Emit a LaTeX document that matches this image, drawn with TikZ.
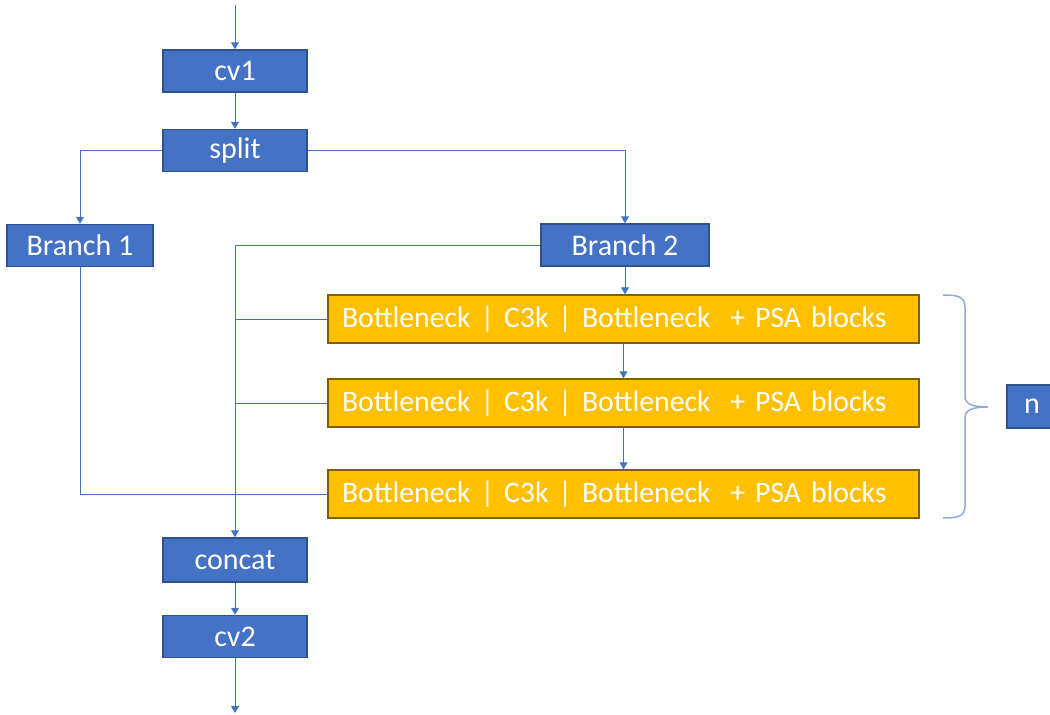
\documentclass[tikz,border=0pt]{standalone}
\usepackage{fontspec}
\setmainfont{Carlito}
\usetikzlibrary{positioning, arrows.meta}
\definecolor{boxblue}{HTML}{4472C4}
\definecolor{boxedge}{HTML}{2F528F}
\definecolor{psayellow}{HTML}{FFC000}
\definecolor{psaedge}{HTML}{7F6000}
\definecolor{bracegray}{HTML}{8FAADC}
\tikzset{
 block/.style = {
    rectangle, draw=boxedge, fill=boxblue,
    text=white,
    line width=1.5pt,
    minimum width=144pt,
    minimum height=42pt,
    inner sep=0pt,
    font=\fontsize{30}{36}\selectfont},
 psablock/.style = {
    rectangle, draw=psaedge, fill=psayellow,
    text=white,
    line width=1.5pt,
    minimum height=48pt,
    text width=563pt, align=left,
    inner xsep=14pt, inner ysep=0pt,
    font=\fontsize{29.7}{36}\selectfont},
 line/.style = {
    draw=boxblue, line width=1pt},
 arrow/.style = {
    line, -{Triangle[width=8pt,length=7pt]}},
}

\begin{document}
\begin{tikzpicture}[x=1pt, y=-1pt]
    \useasboundingbox (0,0) rectangle (1050,715);

    % Place nodes
    \node [block]                             (cv1)    at (235,71)    {cv1};
    \node [block, below=36pt of cv1]          (split)                 {split};
    \node [block, minimum width=146pt]        (b1)     at (80,245.5)  {Branch 1};
    \node [block, minimum width=168pt]        (b2)     at (625,245)   {Branch 2};
    \node [psablock]                          (psa1)   at (623.5,319) {Bottleneck | C3k | Bottleneck~ + PSA blocks};
    \node [psablock]                          (psa2)   at (623.5,403) {Bottleneck | C3k | Bottleneck~ + PSA blocks};
    \node [psablock]                          (psa3)   at (623.5,494) {Bottleneck | C3k | Bottleneck~ + PSA blocks};
    \node [block, minimum height=44pt]        (concat) at (235,560)   {concat};
    \node [block, below=32pt of concat]       (cv2)                   {cv2};
    \node [block, minimum width=50pt, minimum height=43pt] (n) at (1032,406.5) {n};

    \coordinate (in)  at (235,5);
    \coordinate (out) at (235,713);

    % Main path
    \path [arrow] (in) -- (cv1);
    \path [arrow] (cv1) -- (split);
    \path [arrow] (split.west) -| (b1.north);
    \path [arrow] (split.east) -| (b2.north);
    \path [arrow] (b2.west) -| (concat.north);
    \path [arrow] (concat) -- (cv2);
    \path [arrow] (cv2) -- (out);

    % Repeated blocks
    \path [arrow] (b2.south) -- (b2.south |- psa1.north);
    \path [arrow] (psa1) -- (psa2);
    \path [arrow] (psa2) -- (psa3);
    \path [line] (psa1.west) -- (psa1.west -| concat);
    \path [line] (psa2.west) -- (psa2.west -| concat);
    \path [line] (b1.south) |- (psa3.west);

    % Brace for the n repeats
    \draw [bracegray, line width=1.5pt]
        (943,295) .. controls (959,295) and (965,297) .. (965,308)
        -- (965,396) .. controls (965,404) and (972,407) .. (988,407)
        .. controls (972,407) and (965,410) .. (965,418)
        -- (965,506) .. controls (965,516) and (959,518) .. (943,518);

\end{tikzpicture}
\end{document}
